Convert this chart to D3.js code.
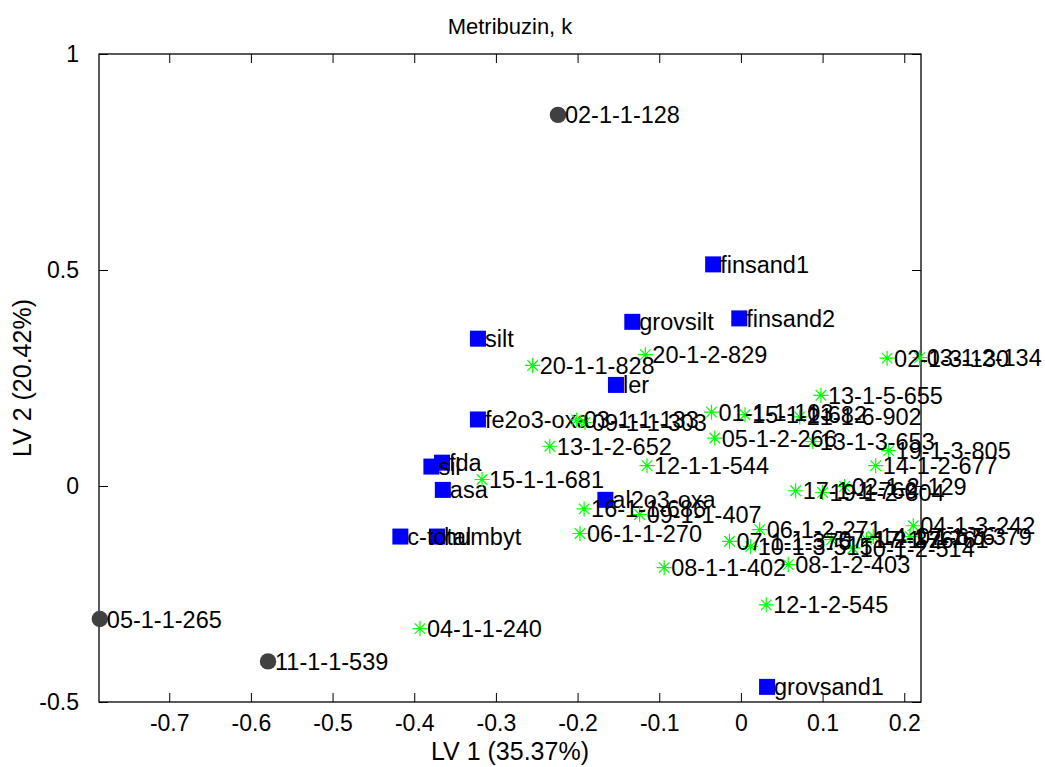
<!DOCTYPE html>
<html>
<head>
<meta charset="utf-8">
<script src="https://cdn.jsdelivr.net/npm/d3@7"></script>
<style>
  body { margin: 0; background: #fff; }
  svg text { font-family: "Liberation Sans", Arial, Helvetica, sans-serif; fill: #000; }
</style>
</head>
<body>
<div id="chart"></div>
<script>
// scores / loadings (LV1, LV2)
const outlierSamples = [
    { name: "02-1-1-128", lv1: -0.224, lv2: 0.859 },
    { name: "05-1-1-265", lv1: -0.785, lv2: -0.308 },
    { name: "11-1-1-539", lv1: -0.579, lv2: -0.406 }
];

const variables = [
    { name: "finsand1", lv1: -0.034, lv2: 0.513 },
    { name: "finsand2", lv1: -0.002, lv2: 0.388 },
    { name: "grovsilt", lv1: -0.133, lv2: 0.380 },
    { name: "silt", lv1: -0.322, lv2: 0.341 },
    { name: "ler", lv1: -0.153, lv2: 0.234 },
    { name: "fe2o3-oxa", lv1: -0.322, lv2: 0.154 },
    { name: "sil", lv1: -0.379, lv2: 0.045 },
    { name: "fda", lv1: -0.366, lv2: 0.054 },
    { name: "asa", lv1: -0.365, lv2: -0.009 },
    { name: "al2o3-oxa", lv1: -0.166, lv2: -0.032 },
    { name: "c-total", lv1: -0.417, lv2: -0.117 },
    { name: "humbyt", lv1: -0.372, lv2: -0.117 },
    { name: "grovsand1", lv1: 0.032, lv2: -0.465 }
];

const samples = [
    { name: "20-1-1-828", lv1: -0.255, lv2: 0.279 },
    { name: "20-1-2-829", lv1: -0.117, lv2: 0.304 },
    { name: "03-1-1-133", lv1: -0.201, lv2: 0.153 },
    { name: "09-1-1-303", lv1: -0.191, lv2: 0.147 },
    { name: "13-1-2-652", lv1: -0.234, lv2: 0.092 },
    { name: "15-1-1-681", lv1: -0.317, lv2: 0.015 },
    { name: "16-1-1-686", lv1: -0.192, lv2: -0.053 },
    { name: "09-1-1-407", lv1: -0.124, lv2: -0.066 },
    { name: "06-1-1-270", lv1: -0.197, lv2: -0.110 },
    { name: "12-1-1-544", lv1: -0.115, lv2: 0.047 },
    { name: "01-1-1-103", lv1: -0.036, lv2: 0.171 },
    { name: "15-1-1-682", lv1: 0.005, lv2: 0.165 },
    { name: "21-1-6-902", lv1: 0.072, lv2: 0.160 },
    { name: "05-1-2-266", lv1: -0.032, lv2: 0.111 },
    { name: "13-1-3-653", lv1: 0.088, lv2: 0.103 },
    { name: "13-1-5-655", lv1: 0.098, lv2: 0.210 },
    { name: "02-1-3-130", lv1: 0.179, lv2: 0.296 },
    { name: "03-1-2-134", lv1: 0.219, lv2: 0.297 },
    { name: "19-1-3-805", lv1: 0.181, lv2: 0.082 },
    { name: "14-1-2-677", lv1: 0.165, lv2: 0.047 },
    { name: "17-1-1-760", lv1: 0.067, lv2: -0.011 },
    { name: "19-1-2-804", lv1: 0.100, lv2: -0.015 },
    { name: "02-1-2-129", lv1: 0.127, lv2: -0.001 },
    { name: "06-1-2-271", lv1: 0.023, lv2: -0.101 },
    { name: "07-1-1-375", lv1: -0.014, lv2: -0.128 },
    { name: "10-1-3-515", lv1: 0.012, lv2: -0.140 },
    { name: "07-1-2-376", lv1: 0.111, lv2: -0.124 },
    { name: "10-1-2-514", lv1: 0.137, lv2: -0.144 },
    { name: "17-1-2-761", lv1: 0.154, lv2: -0.124 },
    { name: "14-1-1-676", lv1: 0.162, lv2: -0.117 },
    { name: "07-1-5-379", lv1: 0.207, lv2: -0.117 },
    { name: "04-1-3-242", lv1: 0.211, lv2: -0.092 },
    { name: "08-1-2-403", lv1: 0.058, lv2: -0.182 },
    { name: "08-1-1-402", lv1: -0.094, lv2: -0.189 },
    { name: "12-1-2-545", lv1: 0.031, lv2: -0.275 },
    { name: "04-1-1-240", lv1: -0.393, lv2: -0.330 }
];

const xTicks = [-0.7, -0.6, -0.5, -0.4, -0.3, -0.2, -0.1, 0, 0.1, 0.2];
const yTicks = [-0.5, 0, 0.5, 1];

const width = 1045;
const height = 767;
const margin = { top: 54, right: 124, bottom: 65, left: 99 };
const fontSize = 23.5;

const svg = d3.select("#chart")
    .append("svg")
    .attr("width", width)
    .attr("height", height);

const x = d3.scaleLinear()
    .domain([-0.786, 0.2205])
    .range([margin.left, width - margin.right]);

const y = d3.scaleLinear()
    .domain([-0.5, 1])
    .range([height - margin.bottom, margin.top]);

const fmt = d => d === 0 ? "0" : String(d);

// axes, MATLAB style: ticks inside on all four sides
const tickLen = 9;
svg.append("g")
    .attr("transform", `translate(0, ${y.range()[0]})`)
    .call(d3.axisBottom(x).tickValues(xTicks).tickSize(-tickLen).tickPadding(13).tickFormat(fmt))
    .call(g => g.select(".domain").remove())
    .call(g => g.selectAll("text").style("font-size", "23px").attr("dy", "0.71em"));

svg.append("g")
    .attr("transform", `translate(0, ${y.range()[1]})`)
    .call(d3.axisTop(x).tickValues(xTicks).tickSize(-tickLen).tickFormat(""))
    .call(g => g.select(".domain").remove());

svg.append("g")
    .attr("transform", `translate(${x.range()[0]}, 0)`)
    .call(d3.axisLeft(y).tickValues(yTicks).tickSize(-tickLen).tickPadding(20).tickFormat(fmt))
    .call(g => g.select(".domain").remove())
    .call(g => g.selectAll("text").style("font-size", "23px"));

svg.append("g")
    .attr("transform", `translate(${x.range()[1]}, 0)`)
    .call(d3.axisRight(y).tickValues(yTicks).tickSize(-tickLen).tickFormat(""))
    .call(g => g.select(".domain").remove());

svg.selectAll(".tick line").attr("stroke", "#000");

svg.append("rect")
    .attr("x", x.range()[0])
    .attr("y", y.range()[1])
    .attr("width", x.range()[1] - x.range()[0])
    .attr("height", y.range()[0] - y.range()[1])
    .attr("fill", "none")
    .attr("stroke", "#000")
    .attr("stroke-width", 1.3);

const plot = svg.append("g");

const addLabels = (data) => {
    plot.append("g")
        .selectAll("text")
        .data(data)
        .join("text")
        .attr("x", d => x(d.lv1) + 7)
        .attr("y", d => y(d.lv2))
        .attr("dy", "0.36em")
        .style("font-size", fontSize + "px")
        .text(d => d.name);
};

// grey circles
plot.append("g")
    .selectAll("circle")
    .data(outlierSamples)
    .join("circle")
    .attr("cx", d => x(d.lv1))
    .attr("cy", d => y(d.lv2))
    .attr("r", 8.2)
    .attr("fill", "#404040");
addLabels(outlierSamples);

// blue squares
const sq = 16;
plot.append("g")
    .selectAll("rect")
    .data(variables)
    .join("rect")
    .attr("x", d => x(d.lv1) - sq / 2)
    .attr("y", d => y(d.lv2) - sq / 2)
    .attr("width", sq)
    .attr("height", sq)
    .attr("fill", "#0000ff");
addLabels(variables);

// green asterisks
const r = 7.5, rd = r * 0.7;
const starPath = `M${-r},0H${r}M0,${-r}V${r}M${-rd},${-rd}L${rd},${rd}M${-rd},${rd}L${rd},${-rd}`;
plot.append("g")
    .selectAll("path")
    .data(samples)
    .join("path")
    .attr("transform", d => `translate(${x(d.lv1)}, ${y(d.lv2)})`)
    .attr("d", starPath)
    .attr("stroke", "#00ff00")
    .attr("stroke-width", 1.2)
    .attr("fill", "none");
addLabels(samples);

// titles
svg.append("text")
    .attr("x", (x.range()[0] + x.range()[1]) / 2)
    .attr("y", 34)
    .attr("text-anchor", "middle")
    .style("font-size", "22px")
    .text("Metribuzin, k");

svg.append("text")
    .attr("x", (x.range()[0] + x.range()[1]) / 2)
    .attr("y", 760)
    .attr("text-anchor", "middle")
    .style("font-size", "25px")
    .text("LV 1 (35.37%)");

svg.append("text")
    .attr("transform", `translate(31, ${(y.range()[0] + y.range()[1]) / 2}) rotate(-90)`)
    .attr("text-anchor", "middle")
    .style("font-size", "25px")
    .text("LV 2 (20.42%)");
</script>
</body>
</html>
